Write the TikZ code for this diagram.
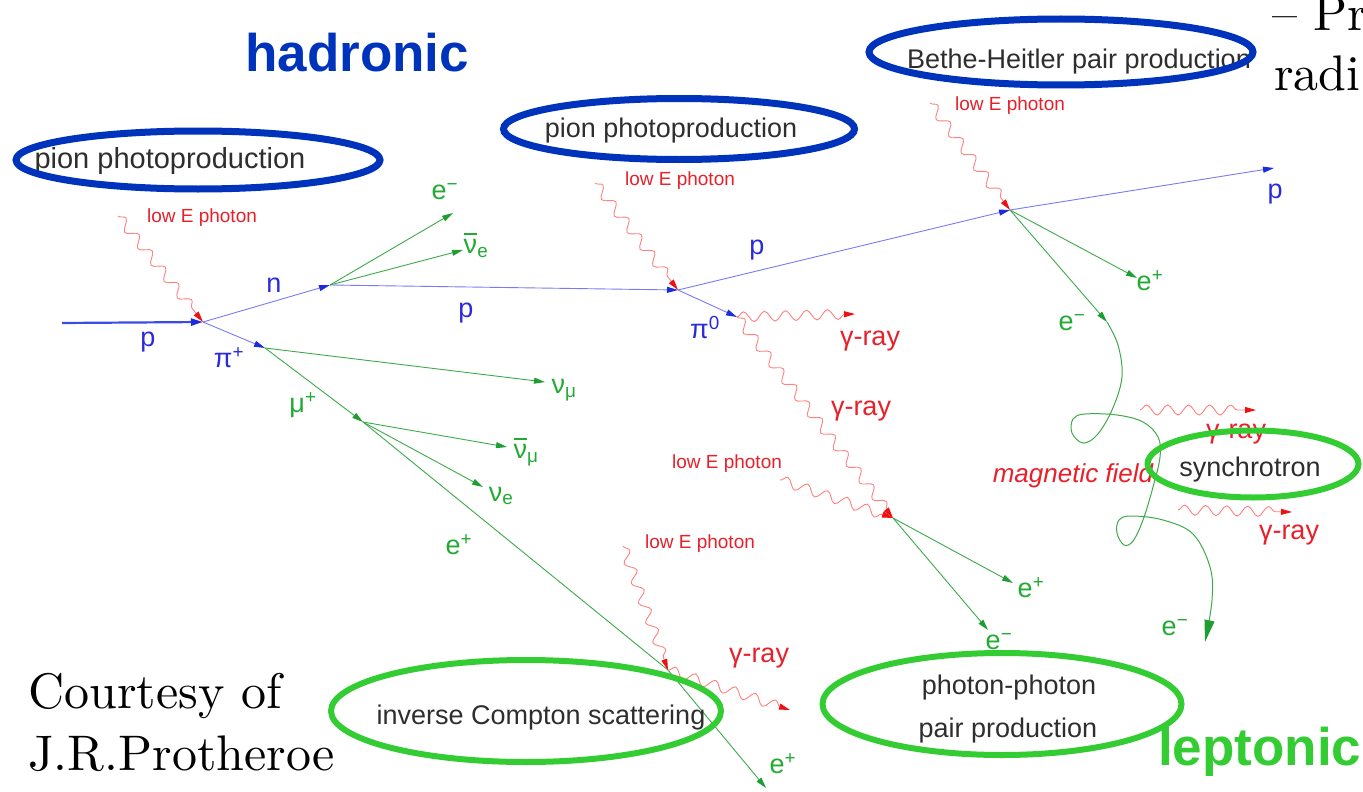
\documentclass[tikz,border=0pt]{standalone}
\usepackage{fontspec}
\newfontfamily\arialf{Liberation Sans}
\newfontfamily\lmten{lmroman10-regular.otf}
\usetikzlibrary{arrows.meta,decorations.pathmorphing,shapes.geometric}
\definecolor{hadblue}{HTML}{0033BB}
\definecolor{lepgreen}{HTML}{33CC33}
\definecolor{trkblue}{HTML}{7A7AF5}
\definecolor{tipblue}{HTML}{1A2BE0}
\definecolor{lblblue}{HTML}{2B2BD9}
\definecolor{trkgreen}{HTML}{3DAA4A}
\definecolor{tipgreen}{HTML}{1E9E32}
\definecolor{lblgreen}{HTML}{22AA33}
\definecolor{phred}{HTML}{FF8080}
\definecolor{tipred}{HTML}{EE1111}
\definecolor{lblred}{HTML}{E8202A}
\definecolor{boxtext}{HTML}{2E2E2E}
\newcommand{\nubar}{\rlap{\raisebox{0.68em}{\rule{0.48em}{0.08em}}}ν}
\newcommand{\sps}[1]{\textsuperscript{#1}}
\newcommand{\sbs}[1]{\textsubscript{#1}}
\begin{document}
\begin{tikzpicture}[x=1pt,y=-1pt,
  hadtrk/.style={draw=trkblue, line width=0.9pt, -{Triangle[length=11pt,width=6pt,color=tipblue]}},
  leptrk/.style={draw=trkgreen, line width=0.9pt, -{Triangle[length=11pt,width=6pt,color=tipgreen]}},
  photon/.style={draw=phred, line width=0.9pt, decorate,
     decoration={snake, amplitude=5pt, segment length=21pt, post length=10pt},
     -{Triangle[length=11pt,width=6pt,color=tipred]}},
  lbl/.style={font=\arialf\fontsize{27}{30}\selectfont, inner sep=0pt},
  bluelbl/.style={lbl, text=lblblue},
  greenlbl/.style={lbl, text=lblgreen},
  redlbl/.style={lbl, text=lblred},
  lowE/.style={font=\arialf\fontsize{19}{21}\selectfont, text=lblred, inner sep=0pt},
  proc/.style={font=\arialf\fontsize{27}{33}\selectfont, text=boxtext, inner sep=0pt},
  blueell/.style={draw=hadblue, line width=7pt, ellipse, inner sep=0pt},
  greenell/.style={draw=lepgreen, line width=6pt, ellipse, inner sep=0pt},
  bigword/.style={font=\arialf\bfseries\fontsize{53}{60}\selectfont, inner sep=0pt, anchor=base west},
  slide/.style={font=\lmten\fontsize{50}{56}\selectfont, inner sep=0pt, anchor=base west}]
\useasboundingbox (0,0) rectangle (1363,792);
\begin{scope}
\clip (0,0) rectangle (1363,792);

% ---------- vertices and end points ----------
\coordinate (pin) at (62,323);
\coordinate (V1) at (203,322);
\coordinate (V2) at (330,285);
\coordinate (V3) at (265,348);
\coordinate (V4) at (678,290);
\coordinate (V5) at (363,422);
\coordinate (V6) at (1010,210);
\coordinate (V7) at (893,518);
\coordinate (V8) at (668,670);
\coordinate (pi0) at (737,317);
\coordinate (em1) at (453,213);
\coordinate (nue1) at (463,250);
\coordinate (numu1) at (545,382);
\coordinate (anumu) at (507,447);
\coordinate (nue2) at (483,487);
\coordinate (epend) at (766,788);
\coordinate (pout) at (1274,168);
\coordinate (ep3) at (1137,278);
\coordinate (em3) at (1107,322);
\coordinate (emend) at (1205,642);
\coordinate (ep4) at (1013,583);
\coordinate (em4) at (988,630);
% photon sources / targets
\coordinate (ph1) at (118,216);
\coordinate (ph2) at (595,183);
\coordinate (ph3) at (930,103);
\coordinate (g1end) at (855,314);
\coordinate (ph4) at (780,480);
\coordinate (ph5) at (623,546);
\coordinate (g3end) at (790,710);
\coordinate (s1a) at (1140,410);
\coordinate (s1b) at (1256,410);
\coordinate (s2a) at (1178,510);
\coordinate (s2b) at (1292,512);

% ---------- hadronic tracks ----------
\draw[draw=tipblue!85, line width=2.2pt, -{Triangle[length=12pt,width=7pt,color=tipblue]}] (pin) -- (V1);
\draw[hadtrk] (V1) -- (V2);
\draw[hadtrk] (V1) -- (V3);
\draw[hadtrk] (V2) -- (V4);
\draw[hadtrk] (V4) -- (V6);
\draw[hadtrk] (V4) -- (pi0);
\draw[hadtrk] (V6) -- (pout);

% ---------- leptonic tracks ----------
\draw[leptrk] (V2) -- (em1);
\draw[leptrk] (V2) -- (nue1);
\draw[leptrk] (V3) -- (numu1);
\draw[leptrk] (V3) -- (V5);
\draw[leptrk] (V5) -- (anumu);
\draw[leptrk] (V5) -- (nue2);
\draw[draw=trkgreen, line width=0.9pt] (V5) -- (V8);
\draw[leptrk] (V8) -- (epend);
\draw[leptrk] (V6) -- (ep3);
\draw[leptrk] (V6) -- (em3);
\draw[leptrk] (V7) -- (ep4);
\draw[leptrk] (V7) -- (em4);
\draw[draw=trkgreen, line width=1pt, -{Triangle[length=22pt,width=10pt,color=tipgreen]}]
  plot[smooth, tension=0.6] coordinates {(1107,322) (1118,345) (1122,377) (1112,410) (1097,435)
   (1083,443) (1072,433) (1073,419) (1085,414) (1117,415) (1143,422) (1158,437) (1160,457)
   (1153,487) (1143,520) (1133,541) (1124,545) (1117,533) (1119,520) (1132,516) (1163,520)
   (1193,534) (1210,567) (1212,600) (1205,642)};

% ---------- photons ----------
\draw[photon] (ph1) -- (V1);
\draw[photon] (ph2) -- (V4);
\draw[photon] (ph3) -- (V6);
\draw[photon] (pi0) -- (g1end);
\draw[photon] (pi0) -- (V7);
\draw[photon] (ph4) -- (V7);
\draw[photon] (ph5) -- (V8);
\draw[photon] (V8) -- (g3end);
\draw[photon] (s1a) -- (s1b);
\draw[photon] (s2a) -- (s2b);

% ---------- particle labels ----------
\node[bluelbl] (lp1) at (148,342) {p};
\node[bluelbl] (ln) at (274,285) {n};
\node[bluelbl] (lpip) at (229,358) {π\sps{+}};
\node[bluelbl] (lp2) at (466,313) {p};
\node[bluelbl] (lpi0) at (705,328) {π\sps{0}};
\node[bluelbl] (lp3) at (757,250) {p};
\node[bluelbl] (lp4) at (1275,194) {p};
\node[greenlbl] (le1) at (445,192) {e\sps{−}};
\node[greenlbl] (lnue1) at (476,245) {\nubar\sbs{e}};
\node[greenlbl] (lnumu1) at (564,390) {ν\sbs{μ}};
\node[greenlbl] (lmup) at (303,405) {μ\sps{+}};
\node[greenlbl] (lanumu) at (526,452) {\nubar\sbs{μ}};
\node[greenlbl] (lnue2) at (501,496) {ν\sbs{e}};
\node[greenlbl] (lep1) at (459,545) {e\sps{+}};
\node[greenlbl] (lep2) at (783,764) {e\sps{+}};
\node[greenlbl] (lep3) at (1150,281) {e\sps{+}};
\node[greenlbl] (lem3) at (1072,323) {e\sps{−}};
\node[greenlbl] (lep4) at (1031,588) {e\sps{+}};
\node[greenlbl] (lem4) at (999,642) {e\sps{−}};
\node[greenlbl] (lem5) at (1175,628) {e\sps{−}};

\node[lowE] (lo1) at (202,218) {low E photon};
\node[lowE] (lo2) at (680,181) {low E photon};
\node[lowE] (lo3) at (1010,106) {low E photon};
\node[lowE] (lo4) at (727,464) {low E photon};
\node[lowE] (lo5) at (700,544) {low E photon};
\node[redlbl] (gr1) at (870,341) {γ-ray};
\node[redlbl] (gr2) at (861,411) {γ-ray};
\node[redlbl] (gr3) at (759,658) {γ-ray};
\node[redlbl] (gr4) at (1236,434) {γ-ray};
\node[redlbl] (gr5) at (1289,535) {γ-ray};
\node[redlbl, font=\arialf\itshape\fontsize{26}{30}\selectfont] (mag) at (1073,476) {magnetic field};

% ---------- process names ----------
\node[proc, font=\arialf\fontsize{29}{33}\selectfont] (t1) at (170,161) {pion photoproduction};
\node[proc] (t2) at (671,131) {pion photoproduction};
\node[proc] (t3) at (1079,62) {Bethe-Heitler pair production};
\node[proc] (t4) at (541,718) {inverse Compton scattering};
\node[proc] (t5a) at (1009,688) {photon-photon};
\node[proc] (t5b) at (1008,731) {pair production};
\node[proc] (t6) at (1250,470) {synchrotron};

% ---------- ellipses ----------
\node[blueell, minimum width=364pt, minimum height=58pt] (e1) at (198,160) {};
\node[blueell, minimum width=351pt, minimum height=61pt] (e2) at (679,129) {};
\node[blueell, minimum width=384pt, minimum height=66pt] (e3) at (1061,52) {};
\node[greenell, minimum width=390pt, minimum height=102pt] (e4) at (526,711) {};
\node[greenell, minimum width=359pt, minimum height=102pt] (e5) at (1002,704) {};
\node[greenell, minimum width=211pt, minimum height=67pt] (e6) at (1253,464) {};

% ---------- headings and slide text ----------
\node[bigword, text=hadblue] (had) at (245,72) {hadronic};
\node[bigword, text=lepgreen] (lep) at (1158,765) {leptonic};
\node[slide] (c1) at (28,708) {Courtesy of};
\node[slide] (c2) at (28,770) {J.R.Protheroe};
\node[slide] (s1) at (1272,31) {– Pr};
\node[slide] (s2) at (1274,90) {radi};
\end{scope}
\end{tikzpicture}
\end{document}
